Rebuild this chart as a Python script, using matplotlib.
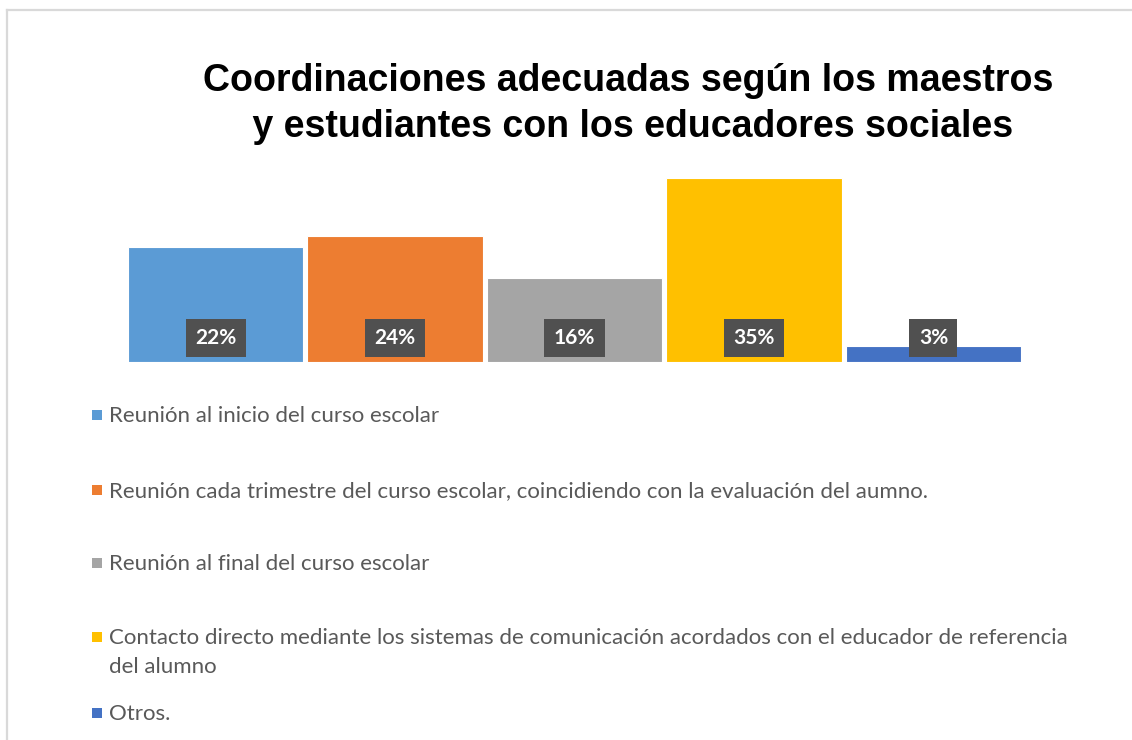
import matplotlib.pyplot as plt
from matplotlib.patches import Rectangle
from matplotlib.lines import Line2D

W, H = 1132, 740

categorias = [
    "Reunión al inicio del curso escolar",
    "Reunión cada trimestre del curso escolar, coincidiendo con la evaluación del aumno.",
    "Reunión al final del curso escolar",
    "Contacto directo mediante los sistemas de comunicación acordados con el educador de referencia\ndel alumno",
    "Otros.",
]
porcentajes = [22, 24, 16, 35, 3]
colores = ["#5B9BD5", "#ED7D31", "#A5A5A5", "#FFC000", "#4472C4"]

titulo = "Coordinaciones adecuadas según los maestros\n y estudiantes con los educadores sociales"

fig = plt.figure(figsize=(W / 100, H / 100), dpi=100)

# marco del gráfico (solo bordes superior e izquierdo visibles)
fig.add_artist(Line2D([7 / W, 1], [1 - 10 / H, 1 - 10 / H], color="#D9D9D9", lw=1.6))
fig.add_artist(Line2D([7 / W, 7 / W], [0, 1 - 10 / H], color="#D9D9D9", lw=1.6))

fig.text(628 / W, 1 - 104 / H, titulo, ha="center", va="center",
         fontsize=27, fontweight="bold", family="Liberation Sans",
         linespacing=1.36, color="black")

# columnas
ax = fig.add_axes([128 / W, 1 - 362 / H, 893 / W, 194 / H])
ancho = 175 / 179.25
x = range(len(porcentajes))
ax.bar(x, porcentajes, width=ancho, color=colores, edgecolor="white", linewidth=0.8)
ax.set_xlim(-ancho / 2, len(porcentajes) - 1 + ancho / 2)
ax.set_ylim(0, 37)
ax.axis("off")

for xi, v in zip(x, porcentajes):
    ax.annotate(f"{v}%", xy=(xi, 0), xytext=(0, 24), textcoords="offset pixels",
                ha="center", va="center", color="white", fontsize=15,
                fontweight="bold", family="Lato",
                bbox=dict(boxstyle="square,pad=0.45", fc="#505050", ec="none"))

# leyenda
filas_y = [415, 490, 563, 637, 713]
for etiqueta, color, yy in zip(categorias, colores, filas_y):
    fig.add_artist(Rectangle((92 / W, 1 - (yy + 5) / H), 10 / W, 10 / H,
                             facecolor=color, edgecolor="none"))
    fig.text(109 / W, 1 - (yy - 9) / H, etiqueta, ha="left", va="top",
             fontsize=16, family="Lato", color="#595959", linespacing=1.57)

fig.savefig("out.png", dpi=100)
